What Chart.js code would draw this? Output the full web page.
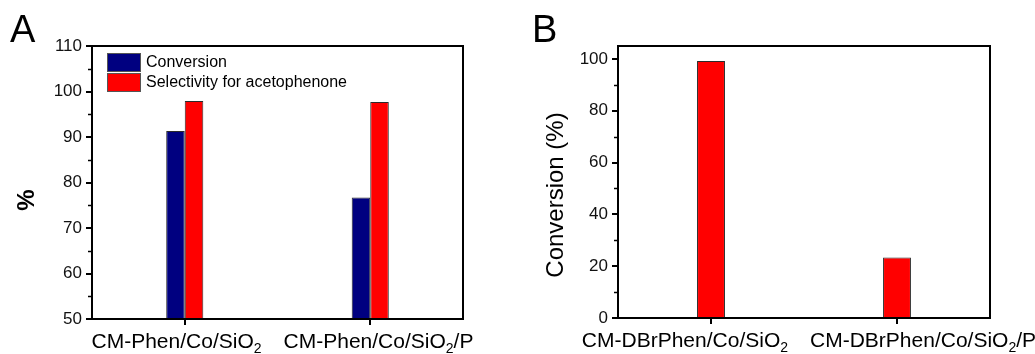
<!DOCTYPE html>
<html>
<head>
<meta charset="utf-8">
<script src="https://cdn.jsdelivr.net/npm/chart.js@4.4.0/dist/chart.umd.min.js"></script>
<style>
html, body { margin: 0; padding: 0; background: #fff; }
#wrap { position: relative; width: 1035px; height: 354px; overflow: hidden; }
.panel { position: absolute; top: 0; }
</style>
</head>
<body>
<div id="wrap">
  <div class="panel" style="left:0"><canvas id="chartA" width="517" height="354"></canvas></div>
  <div class="panel" style="left:517px"><canvas id="chartB" width="518" height="354"></canvas></div>
</div>
<script>
// Panel A: conversion / selectivity (%), "_x" marks a subscript
var catsA = ['CM-Phen/Co/SiO_2', 'CM-Phen/Co/SiO_2/P'];
var conversionA = [91.3, 76.7];
var selectivityA = [97.9, 97.7];
var ticksA = [50, 60, 70, 80, 90, 100, 110];

// Panel B: conversion (%)
var catsB = ['CM-DBrPhen/Co/SiO_2', 'CM-DBrPhen/Co/SiO_2/P'];
var conversionB = [99.2, 23.4];
var ticksB = [0, 20, 40, 60, 80, 100];

var FONT = 'Liberation Sans, Arial, Helvetica, sans-serif';
var NAVY = '#000080';
var RED = '#ff0000';
var EDGE = '#2b2b2b';

// split "SiO_2" into normal / subscript runs
function subParts(s) {
    var out = [], re = /_(.)/g, last = 0, m;
    while ((m = re.exec(s))) {
        if (m.index > last) out.push({ t: s.slice(last, m.index), sub: false });
        out.push({ t: m[1], sub: true });
        last = re.lastIndex;
    }
    if (last < s.length) out.push({ t: s.slice(last), sub: false });
    return out;
}

function partsWidth(ctx, parts) {
    var w = 0;
    parts.forEach(function (p) {
        ctx.font = (p.sub ? '14px ' : '21px ') + FONT;
        w += ctx.measureText(p.t).width;
    });
    return w;
}

// frame, minor ticks, category labels, axis title, panel letter, legend
var panelDeco = {
    id: 'panelDeco',
    afterDraw: function (chart, args, o) {
        var ctx = chart.ctx, a = chart.chartArea;
        var xs = chart.scales.x, ys = chart.scales.y;
        ctx.save();

        // box
        ctx.strokeStyle = '#000';
        ctx.lineWidth = 2;
        ctx.strokeRect(a.left, a.top, a.right - a.left, a.bottom - a.top);

        // minor ticks halfway between majors
        ctx.lineWidth = 1.5;
        var tv = o.ticks;
        for (var i = 0; i < tv.length - 1; i++) {
            var y = Math.round(ys.getPixelForValue((tv[i] + tv[i + 1]) / 2)) + 0.5;
            ctx.beginPath();
            ctx.moveTo(a.left - 4, y);
            ctx.lineTo(a.left, y);
            ctx.stroke();
        }

        // category labels with subscripts, pushed apart when crowded
        var labels = chart.data.labels.map(subParts);
        var widths = labels.map(function (p) { return partsWidth(ctx, p); });
        var centers = labels.map(function (p, i) { return xs.getPixelForTick(i); });
        for (var j = 0; j < centers.length - 1; j++) {
            var gap = (centers[j + 1] - widths[j + 1] / 2) - (centers[j] + widths[j] / 2);
            if (gap < 22) {
                var sh = (22 - gap) / 2;
                centers[j] -= sh;
                centers[j + 1] += sh;
            }
        }
        ctx.fillStyle = '#000';
        ctx.textBaseline = 'alphabetic';
        ctx.textAlign = 'left';
        var base = a.bottom + 29;
        labels.forEach(function (parts, k) {
            var x = centers[k] - widths[k] / 2;
            parts.forEach(function (p) {
                ctx.font = (p.sub ? '14px ' : '21px ') + FONT;
                ctx.fillText(p.t, x, p.sub ? base + 5 : base);
                x += ctx.measureText(p.t).width;
            });
        });

        // y title
        ctx.save();
        ctx.translate(o.titleX, o.titleY);
        ctx.rotate(-Math.PI / 2);
        ctx.textAlign = 'center';
        ctx.textBaseline = 'middle';
        ctx.font = o.titleFont + ' ' + FONT;
        ctx.fillText(o.title, 0, 0);
        ctx.restore();

        // panel letter
        ctx.font = '38px ' + FONT;
        ctx.textAlign = 'left';
        ctx.fillText(o.letter, o.letterX, 42);

        // legend inside the plot
        if (o.legend) {
            var bx = a.left + 15, by = a.top + 7;
            ctx.font = '16px ' + FONT;
            ctx.textBaseline = 'middle';
            chart.data.datasets.forEach(function (ds, n) {
                var yy = by + n * 20;
                ctx.fillStyle = ds.backgroundColor;
                ctx.fillRect(bx, yy, 34, 19);
                ctx.strokeStyle = '#555';
                ctx.lineWidth = 1;
                ctx.strokeRect(bx + 0.5, yy + 0.5, 33, 18);
                ctx.fillStyle = '#000';
                ctx.fillText(ds.label, bx + 39, yy + 10);
            });
        }
        ctx.restore();
    }
};

function xAxis(h) {
    return {
        offset: true,
        grid: { display: true, drawOnChartArea: false, drawTicks: true, tickLength: 6, offset: false, color: '#000', lineWidth: 2 },
        border: { display: false },
        ticks: { display: false },
        afterFit: function (s) { s.height = h; }
    };
}

function yAxis(min, max, tickVals, w) {
    return {
        min: min,
        max: max,
        afterBuildTicks: function (s) { s.ticks = tickVals.map(function (v) { return { value: v }; }); },
        grid: { drawOnChartArea: false, drawTicks: true, tickLength: 6, color: '#000', lineWidth: 2 },
        border: { display: false },
        ticks: { color: '#111', padding: 4, font: { size: 17, family: FONT } },
        afterFit: function (s) { s.width = w; }
    };
}

new Chart(document.getElementById('chartA'), {
    type: 'bar',
    data: {
        labels: catsA,
        datasets: [
            { label: 'Conversion', data: conversionA, backgroundColor: NAVY, borderColor: EDGE, borderWidth: 1, categoryPercentage: 0.2, barPercentage: 1.0 },
            { label: 'Selectivity for acetophenone', data: selectivityA, backgroundColor: RED, borderColor: EDGE, borderWidth: 1, categoryPercentage: 0.2, barPercentage: 1.0 }
        ]
    },
    options: {
        responsive: false,
        animation: false,
        layout: { padding: { left: 0, right: 54, top: 46, bottom: 0 } },
        plugins: {
            legend: { display: false },
            tooltip: { enabled: false },
            panelDeco: { ticks: ticksA, title: '%', titleFont: 'bold 24px', titleX: 27.5, titleY: 200, letter: 'A', letterX: 10, legend: true }
        },
        scales: { x: xAxis(35), y: yAxis(50, 110, ticksA, 92) }
    },
    plugins: [panelDeco]
});

new Chart(document.getElementById('chartB'), {
    type: 'bar',
    data: {
        labels: catsB,
        datasets: [
            { label: 'Conversion', data: conversionB, backgroundColor: RED, borderColor: EDGE, borderWidth: 1, categoryPercentage: 0.15, barPercentage: 1.0 }
        ]
    },
    options: {
        responsive: false,
        animation: false,
        layout: { padding: { left: 0, right: 45, top: 46, bottom: 0 } },
        plugins: {
            legend: { display: false },
            tooltip: { enabled: false },
            panelDeco: { ticks: ticksB, title: 'Conversion (%)', titleFont: '24px', titleX: 39.7, titleY: 195, letter: 'B', letterX: 15, legend: false }
        },
        scales: { x: xAxis(36), y: yAxis(0, 105, ticksB, 101) }
    },
    plugins: [panelDeco]
});
</script>
</body>
</html>
